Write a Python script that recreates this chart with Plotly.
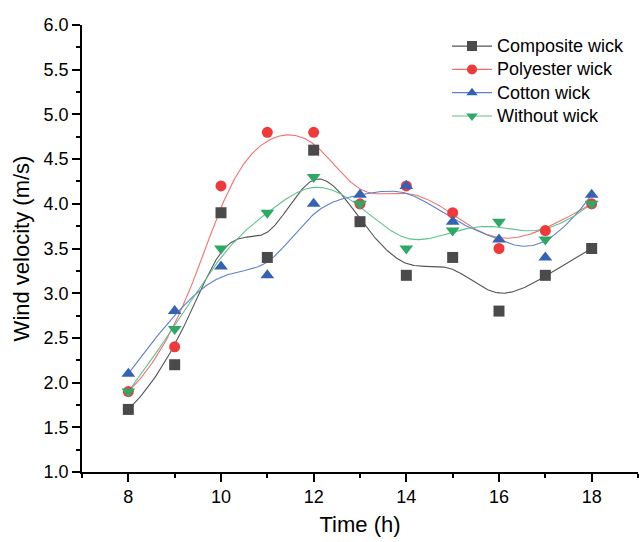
import numpy as np
import plotly.graph_objects as go

hours = [8, 9, 10, 11, 12, 13, 14, 15, 16, 17, 18]
composite = [1.7, 2.2, 3.9, 3.4, 4.6, 3.8, 3.2, 3.4, 2.8, 3.2, 3.5]
polyester = [1.9, 2.4, 4.2, 4.8, 4.8, 4.0, 4.2, 3.9, 3.5, 3.7, 4.0]
cotton = [2.1, 2.8, 3.3, 3.2, 4.0, 4.1, 4.2, 3.8, 3.6, 3.4, 4.1]
without = [1.9, 2.6, 3.5, 3.9, 4.3, 4.0, 3.5, 3.7, 3.8, 3.6, 4.0]

series = [
    ("Composite wick", composite, "#4a4a4a", "#555555", "square"),
    ("Polyester wick", polyester, "#ee3a3a", "#f07070", "circle"),
    ("Cotton wick", cotton, "#3563b3", "#5a82cc", "triangle-up"),
    ("Without wick", without, "#2ea865", "#5cc08a", "triangle-down"),
]


def bspline(px, py, degree=3, samples=400):
    """Clamped uniform B-spline using the data points as control points."""
    n = len(px)
    k = degree
    inner = list(range(1, n - k))
    knots = np.array([0.0] * (k + 1) + inner + [float(n - k)] * (k + 1))
    t = np.linspace(0, n - k, samples)
    t[-1] -= 1e-9

    def basis(i, p, t):
        if p == 0:
            return np.where((knots[i] <= t) & (t < knots[i + 1]), 1.0, 0.0)
        a = np.zeros_like(t)
        b = np.zeros_like(t)
        d1 = knots[i + p] - knots[i]
        d2 = knots[i + p + 1] - knots[i + 1]
        if d1 > 0:
            a = (t - knots[i]) / d1 * basis(i, p - 1, t)
        if d2 > 0:
            b = (knots[i + p + 1] - t) / d2 * basis(i + 1, p - 1, t)
        return a + b

    B = np.array([basis(i, k, t) for i in range(n)])
    return B.T @ np.array(px, float), B.T @ np.array(py, float)


fig = go.Figure()
for name, vals, mcol, lcol, sym in series:
    cx, cy = bspline(hours, vals)
    fig.add_trace(go.Scatter(x=cx, y=cy, mode="lines",
                             line=dict(color=lcol, width=1.1),
                             showlegend=False, hoverinfo="skip"))
for name, vals, mcol, lcol, sym in series:
    fig.add_trace(go.Scatter(x=hours, y=vals, mode="markers",
                             marker=dict(symbol=sym, color=mcol, size=11 if sym in ("square", "circle") else 12),
                             showlegend=False))
for name, vals, mcol, lcol, sym in series:
    fig.add_trace(go.Scatter(x=[None], y=[None], mode="lines+markers",
                             name='<span style="font-size:18px">' + name + '</span>',
                             line=dict(color=lcol, width=1.1),
                             marker=dict(symbol=sym, color=mcol, size=10)))

axis_common = dict(
    showline=True, linecolor="black", linewidth=1.5,
    ticks="outside", ticklen=8, tickwidth=1.5, tickcolor="black",
    showgrid=False, zeroline=False, mirror=False,
    tickfont=dict(family="Liberation Sans, Arial", size=18, color="black"),
)

fig.update_layout(
    width=643, height=542,
    margin=dict(l=82, r=5, t=25, b=70),
    paper_bgcolor="white", plot_bgcolor="white",
    font=dict(family="Liberation Sans, Arial", color="black"),
    xaxis=dict(range=[7, 19], tickmode="array", tickvals=[8, 10, 12, 14, 16, 18],
               minor=dict(ticks="outside", ticklen=4, tickwidth=1.5, tickcolor="black", dtick=1, tick0=7),
               title=dict(text="Time (h)", font=dict(size=22), standoff=10),
               **axis_common),
    yaxis=dict(range=[1, 6], tickmode="linear", tick0=1, dtick=0.5, tickformat=".1f",
               minor=dict(ticks="outside", ticklen=4, tickwidth=1.5, tickcolor="black", dtick=0.25, tick0=1),
               title=dict(text="Wind velocity (m/s)", font=dict(size=22), standoff=8),
               **axis_common),
    legend=dict(x=(447 - 82) / 556, y=0.99, xanchor="left", yanchor="top",
                bgcolor="rgba(0,0,0,0)", font=dict(size=15.6, color="black"),
                tracegroupgap=0, itemwidth=40),
)

fig.write_html("out.html")
